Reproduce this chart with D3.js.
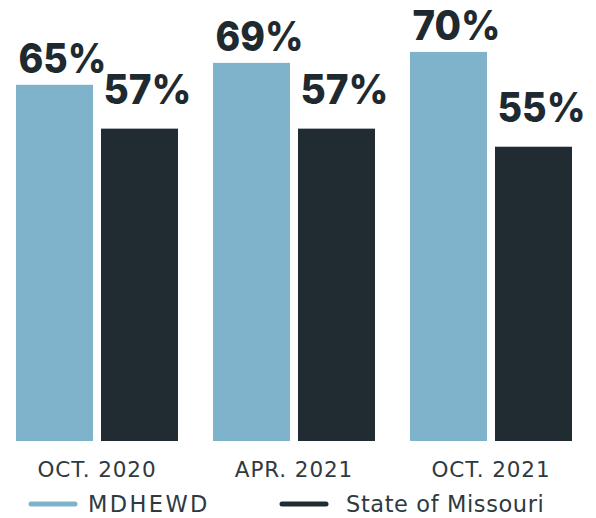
<!DOCTYPE html>
<html>
<head>
<meta charset="utf-8">
<script src="https://cdn.jsdelivr.net/npm/d3@7"></script>
<style>
  html, body { margin: 0; padding: 0; background: #ffffff; }
  svg { display: block; }
</style>
</head>
<body>
<div id="chart"></div>
<script>
// ---- Data ----
const categories = ["OCT. 2020", "APR. 2021", "OCT. 2021"];
const seriesNames = ["MDHEWD", "State of Missouri"];
const mdhewdValues = [65, 69, 71];
const missouriValues = [57, 57, 53.7];
const mdhewdLabels = ["65%", "69%", "70%"];
const missouriLabels = ["57%", "57%", "55%"];
const seriesColors = ["#7fb2cb", "#212b32"];

// ---- Layout ----
const W = 596, H = 518;
const baseline = 441;
const labelGap = { "MDHEWD": 12, "State of Missouri": 25 };

const svg = d3.select("#chart").append("svg")
  .attr("width", W).attr("height", H);

const x0 = d3.scaleBand().domain(categories).range([16, 572])
  .paddingInner(0.1777).paddingOuter(0);
const x1 = d3.scaleBand().domain(seriesNames).range([0, x0.bandwidth()])
  .paddingInner(0.094).paddingOuter(0);
const y = d3.scaleLinear().domain([0, 100]).range([baseline, baseline - 548]);

const rows = categories.map((c, i) => ({
  cat: c,
  items: [
    { s: seriesNames[0], v: mdhewdValues[i], label: mdhewdLabels[i], color: seriesColors[0] },
    { s: seriesNames[1], v: missouriValues[i], label: missouriLabels[i], color: seriesColors[1] }
  ]
}));

const g = svg.selectAll("g.group").data(rows).join("g")
  .attr("class", "group")
  .attr("transform", d => `translate(${x0(d.cat)},0)`);

g.selectAll("rect").data(d => d.items).join("rect")
  .attr("x", d => x1(d.s))
  .attr("y", d => y(d.v))
  .attr("width", x1.bandwidth())
  .attr("height", d => baseline - y(d.v))
  .attr("fill", d => d.color);

g.selectAll("text.val").data(d => d.items).join("text")
  .attr("class", "val")
  .attr("x", d => x1(d.s) + x1.bandwidth() / 2 + 8)
  .attr("y", d => y(d.v) - labelGap[d.s])
  .attr("text-anchor", "middle")
  .attr("font-family", "Inter, 'DejaVu Sans', sans-serif")
  .attr("font-weight", 800)
  .attr("font-size", 41)
  .attr("textLength", 88)
  .attr("lengthAdjust", "spacingAndGlyphs")
  .attr("fill", "#1f2a30")
  .text(d => d.label);

// Category axis labels
const xAxis = d3.axisBottom(x0).tickSize(0).tickPadding(0);
const axisG = svg.append("g").attr("transform", `translate(0,${baseline})`).call(xAxis);
axisG.select(".domain").remove();
axisG.selectAll("text")
  .attr("y", 36)
  .attr("dy", 0)
  .attr("font-family", "'DejaVu Sans', sans-serif")
  .attr("font-size", 21.5)
  .attr("letter-spacing", 0.9)
  .attr("fill", "#2f3a40");

// Legend
const legendX = [31, 282];
const lg = svg.selectAll("g.legend").data(seriesNames).join("g")
  .attr("class", "legend")
  .attr("transform", (d, i) => `translate(${legendX[i]},504)`);
lg.append("line")
  .attr("x1", 0).attr("x2", 44).attr("y1", 0).attr("y2", 0)
  .attr("stroke", (d, i) => seriesColors[i])
  .attr("stroke-width", 5)
  .attr("stroke-linecap", "round");
lg.append("text")
  .attr("x", (d, i) => i === 0 ? 57 : 64)
  .attr("y", 8)
  .attr("font-family", "'DejaVu Sans', sans-serif")
  .attr("font-size", 22.5)
  .attr("letter-spacing", (d, i) => i === 0 ? 2.4 : 0.6)
  .attr("fill", "#2f3a40")
  .text(d => d);
</script>
</body>
</html>
